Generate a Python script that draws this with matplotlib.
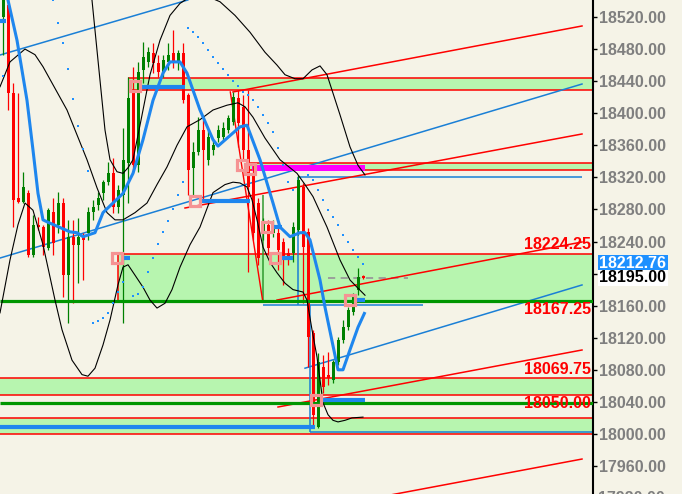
import matplotlib
matplotlib.use("Agg")
import matplotlib.pyplot as plt
import matplotlib.transforms as mtransforms
from matplotlib.patches import Rectangle
import numpy as np

plt.rcParams["font.family"] = ["Liberation Sans", "DejaVu Sans"]
plt.rcParams["font.weight"] = "bold"

# ---- candles (bar index 0..72) ----
opens = [18520, 18535, 18425, 18294, 18289, 18300, 18223, 18261, 18258, 18232,
         18277, 18261, 18288, 18198, 18246, 18236, 18246, 18251, 18277, 18286,
         18300, 18314, 18325, 18283, 18298, 18338, 18429, 18335, 18454, 18464,
         18475, 18463, 18450, 18464, 18475, 18464, 18475, 18423, 18332, 18352,
         18379, 18342, 18354, 18369, 18370, 18379, 18389, 18419, 18408, 18354,
         18323, 18288, 18251, 18261, 18251, 18251, 18239, 18226, 18226, 18254,
         18308, 18252, 18126, 18009, 18084, 18074, 18067, 18090, 18117, 18133,
         18152, 18180, 18197]
highs = [18554, 18547, 18438, 18425, 18327, 18304, 18273, 18271, 18261, 18282,
         18294, 18302, 18294, 18267, 18267, 18269, 18251, 18283, 18292, 18302,
         18317, 18339, 18344, 18310, 18382, 18445, 18458, 18464, 18489, 18483,
         18488, 18473, 18473, 18488, 18504, 18479, 18488, 18425, 18364, 18395,
         18392, 18379, 18367, 18385, 18389, 18398, 18426, 18429, 18423, 18429,
         18335, 18294, 18269, 18267, 18267, 18257, 18244, 18232, 18264, 18323,
         18313, 18257, 18130, 18101, 18098, 18102, 18092, 18121, 18142, 18158,
         18176, 18207, 18198]
lows = [18473, 18404, 18258, 18288, 18288, 18221, 18221, 18254, 18223, 18229,
        18223, 18251, 18171, 18138, 18163, 18188, 18192, 18242, 18267, 18279,
        18292, 18310, 18276, 18276, 18138, 18288, 18327, 18327, 18438, 18458,
        18450, 18445, 18445, 18454, 18456, 18454, 18413, 18298, 18296, 18348,
        18292, 18335, 18348, 18364, 18367, 18375, 18385, 18358, 18342, 18202,
        18242, 18211, 18242, 18223, 18246, 18204, 18186, 18211, 18214, 18248,
        18163, 18084, 18009, 18007, 18051, 18061, 18064, 18086, 18113, 18130,
        18148, 18173, 18193]
closes = [18547, 18425, 18292, 18289, 18308, 18223, 18261, 18258, 18233, 18279,
          18238, 18288, 18198, 18246, 18236, 18246, 18242, 18277, 18283, 18294,
          18314, 18325, 18283, 18304, 18342, 18419, 18335, 18451, 18470, 18476,
          18463, 18451, 18466, 18473, 18463, 18475, 18416, 18329, 18352, 18379,
          18354, 18370, 18360, 18379, 18382, 18394, 18420, 18388, 18354, 18308,
          18251, 18219, 18263, 18232, 18261, 18229, 18221, 18217, 18258, 18317,
          18233, 18121, 18024, 18090, 18059, 18070, 18090, 18117, 18133, 18155,
          18171, 18196, 18194]

# ---- moving average (thick blue) ----
ma_x = [0.5, 0.94, 2.74, 4.74, 5.94, 6.94, 7.94, 8.94, 13.34, 14.74, 15.94, 18.34,
        19.94, 21.94, 23.94, 25.94, 27.94, 29.94, 31.94, 33.34, 35.34, 36.74,
        39.34, 41.94, 42.94, 47.34, 48.74, 51.34, 53.94, 55.34, 57.34, 59.34,
        60.34, 61.34, 63.34, 64.34, 66.94, 67.94, 69.34, 70.94, 72.34]
ma_y = [18560, 18541, 18491, 18416, 18354, 18300, 18267, 18264, 18252, 18251,
        18246, 18251, 18276, 18288, 18300, 18325, 18367, 18416, 18450, 18464,
        18464, 18450, 18404, 18367, 18359, 18383, 18385, 18342, 18288, 18258,
        18246, 18251, 18251, 18242, 18192, 18158, 18080, 18080, 18105, 18133,
        18152]

# ---- bollinger bands (black) ----
up_x = [16.54, 17.74, 19.34, 20.34, 21.34, 22.74, 23.94, 24.94, 25.94, 27.34,
        29.34, 31.34, 33.34, 35.34, 37.34, 40.34, 43.34, 46.34, 49.34, 52.34,
        54.74, 56.34, 58.34, 59.94, 61.74, 63.34, 64.74, 65.94, 67.34, 69.34,
        70.94, 72.34]
up_y = [18591, 18541, 18441, 18379, 18342, 18327, 18325, 18332, 18342, 18385,
        18448, 18491, 18522, 18537, 18545, 18547, 18539, 18522, 18501, 18476,
        18460, 18448, 18443, 18443, 18454, 18459, 18448, 18425, 18398, 18358,
        18335, 18323]
mid_x = [-0.66, 1.34, 4.34, 6.34, 7.94, 10.34, 12.74, 14.74, 16.74, 18.74,
         20.74, 22.34, 23.94, 26.34, 28.74, 30.74, 32.74, 34.74, 36.74, 39.34,
         41.94, 44.74, 46.94, 48.34, 49.94, 52.34, 55.34, 58.74, 60.34, 61.94,
         63.34, 64.74, 67.34, 69.34, 70.74, 72.34]
mid_y = [18433, 18464, 18480, 18473, 18458, 18431, 18404, 18373, 18342, 18307,
         18276, 18267, 18267, 18276, 18288, 18311, 18333, 18360, 18383, 18392,
         18404, 18410, 18413, 18408, 18395, 18369, 18342, 18325, 18311, 18296,
         18277, 18258, 18217, 18192, 18183, 18173]
low_x = [-0.66, 1.34, 2.94, 4.34, 5.94, 7.94, 10.34, 11.74, 13.74, 15.74,
         16.94, 18.34, 19.94, 21.34, 22.94, 23.94, 24.94, 26.34, 27.94, 29.34,
         30.74, 32.34, 33.74, 35.34, 37.34, 39.34, 41.94, 44.34, 45.94, 47.34,
         48.74, 49.74, 50.74, 51.94, 53.34, 54.74, 56.34, 57.94, 59.94, 60.74,
         61.74, 62.74, 63.94, 64.94, 65.94, 66.94, 68.34, 69.74, 71.94]
low_y = [18151, 18217, 18261, 18288, 18279, 18236, 18167, 18130, 18092, 18074,
         18072, 18082, 18111, 18142, 18186, 18208, 18211, 18198, 18183, 18167,
         18157, 18163, 18180, 18208, 18236, 18258, 18301, 18311, 18314, 18313,
         18308, 18292, 18267, 18233, 18214, 18201, 18188, 18180, 18177, 18167,
         18130, 18096, 18039, 18024, 18017, 18015, 18017, 18020, 18021]

# ---- parabolic SAR dots ----
sar_x = [-0.06, 9.94, 10.94, 11.94, 12.94, 13.94, 14.94, 15.94, 16.94,
         17.94, 18.94, 19.94, 20.94, 21.94, 22.94, 23.94, 25.94, 26.94, 27.94,
         28.94, 29.94, 30.94, 31.94, 32.94, 33.94, 34.94, 35.94,
         36.94, 37.94, 38.94, 39.94, 40.94, 41.94, 42.94, 43.94, 44.94, 45.94,
         46.94, 47.94, 48.94, 49.94, 50.94, 51.94, 52.94, 53.94, 54.94, 55.94,
         56.94, 57.94,
         60.94, 61.94, 62.94, 63.94, 64.94, 65.94, 66.94, 67.94, 68.94, 69.94,
         70.94, 71.94]
sar_y = [18446, 18541, 18513, 18488, 18455, 18418, 18384, 18355, 18328,
         18138, 18141, 18145, 18151, 18163, 18177, 18190, 18172, 18175, 18183,
         18202, 18219, 18237, 18252, 18266, 18280, 18298, 18314,
         18506, 18501, 18495, 18488, 18479, 18470, 18463, 18455, 18448, 18440,
         18434, 18427, 18423, 18417, 18408, 18398, 18388, 18377, 18357, 18335,
         18314, 18304,
         18323, 18317, 18304, 18292, 18279, 18271, 18261, 18248, 18239, 18229,
         18221, 18212]

# ---- swing markers (pink squares) ----
pivot_x = [26.34, 22.74, 38.34, 47.7, 49.3, 52.74, 54.34, 69.34, 62.54]
pivot_y = [18434, 18219, 18290, 18336, 18331, 18258, 18219, 18167, 18042]

# ---- thick blue pivot segments: (x0, x1, price) ----
pivot_lines = [(27.7, 36.3, 18433), (39.7, 49.3, 18290), (53.7, 55.7, 18258),
               (55.7, 57.9, 18219), (23.7, 25.3, 18219), (70.7, 72.3, 18167),
               (63.7, 72.3, 18042), (-0.66, 62.3, 18009), (-0.66, 0.54, 18515)]

# ---- zones: (x0, low, high) ----
zones = [(24.9, 18429.0, 18443.9), (49.3, 18329.2, 18338.0),
         (22.9, 18166.0, 18224.25), (-0.66, 18049.0, 18069.75),
         (-0.66, 17999.9, 18019.9)]
red_levels = [(24.9, 18443.9), (24.9, 18429.0), (49.3, 18338.0), (49.3, 18329.2),
              (22.9, 18224.25), (-0.66, 18069.75), (-0.66, 18049.0),
              (-0.66, 18019.9), (-0.66, 17999.9)]
green_levels = [18166.0, 18038.6]
level_labels = [(18236, "18224.25"), (18155, "18167.25"),
                (18080, "18069.75"), (18038, "18050.00")]

# ---- trend channels: ((x0, p0), (x1, p1)) ----
red_diag = [((45.94, 18426.5), (115.74, 18508.8)),
            ((36.34, 18281.8), (115.74, 18374.1)),
            ((54.74, 18167.0), (115.74, 18239.4)),
            ((54.94, 18033.6), (115.74, 18104.7)),
            ((54.94, 17897.6), (115.74, 17968.7))]
blue_diag = [((-0.66, 18472.6), (36.9, 18541.2)),
             ((-0.66, 18219.4), (115.74, 18436.4)),
             ((60.34, 18082.0), (115.74, 18185.8))]

last_price = 18212.76
cur_price = 18195.00
y_ticks = np.arange(17960, 18521, 40)

bg = "#F5F3E7"
zone_green = "#B7F5AF"
line_green = "#009600"
blue = "#1E86EE"
thin_blue = "#1A7FD6"

fig = plt.figure(figsize=(6.82, 4.94), dpi=100, facecolor=bg)
ax = fig.add_axes([0, 0, 593 / 682, 1], facecolor=bg)
x_end = 117.94
ax.set_xlim(-0.66, x_end)
ax.set_ylim(17925.1, 18541.2)

# zones and levels
for x0, lo, hi in zones:
    ax.fill_between([x0, x_end], lo, hi, color=zone_green, lw=0, zorder=1)
ax.fill_between([49.7, 72.3], 18327.9, 18335.4, color="#FF00FF", lw=0, zorder=2.5)
for x0, p in red_levels:
    ax.hlines(p, x0, x_end, colors="red", lw=1.1, zorder=2)
ax.vlines(22.9, 18166, 18224.25, colors="red", lw=1.1, zorder=2)
for p in green_levels:
    ax.hlines(p, -0.66, x_end, colors=line_green, lw=2.3, zorder=3.5)

# box outlines
ax.hlines(18320, 58.9, 115.7, colors=thin_blue, lw=1.1, zorder=2)
ax.vlines(58.9, 18161, 18320, colors=thin_blue, lw=1.1, zorder=2)
ax.hlines(18161, 51.9, 83.9, colors=thin_blue, lw=1.1, zorder=2)
ax.vlines(61.3, 18002, 18161, colors=thin_blue, lw=1.1, zorder=2)
ax.hlines(18002.4, 61.3, x_end, colors=thin_blue, lw=1.1, zorder=2)
ax.vlines(51.9, 18163, 18298, colors="#2E9A2E", lw=1.1, zorder=2)
ax.plot([45.4, 51.9], [18426.5, 18165], color="red", lw=1.0, zorder=2)
ax.hlines(18194.5, 64.9, 80.9, colors="#999999", lw=1.3,
          linestyles=(0, (4, 3)), zorder=2)

for (x0, p0), (x1, p1) in red_diag:
    ax.plot([x0, x1], [p0, p1], color="red", lw=1.1, zorder=2)
for (x0, p0), (x1, p1) in blue_diag:
    ax.plot([x0, x1], [p0, p1], color=thin_blue, lw=1.1, zorder=2)

# candles
xs = np.arange(len(opens))
o = np.array(opens); h = np.array(highs); l = np.array(lows); c = np.array(closes)
cols = np.where(c >= o, "#008000", "#FF0000")
ax.vlines(xs, l, h, colors=cols, lw=0.9, zorder=3)
body_lo = np.minimum(o, c)
body_h = np.maximum(np.abs(c - o), 2.5)
ax.bar(xs, body_h, bottom=body_lo, width=0.62, color=cols, lw=0, zorder=3)

# bands, SAR, MA
for bx, by in [(up_x, up_y), (mid_x, mid_y), (low_x, low_y)]:
    ax.plot(bx, by, color="black", lw=0.8, zorder=4)
ax.plot(sar_x, sar_y, "s", ms=1.7, mew=0, color="#1E90FF", zorder=4)
ax.plot(ma_x, ma_y, color=blue, lw=2.2, zorder=5, solid_capstyle="butt")

for x0, x1, p in pivot_lines:
    ax.hlines(p, x0, x1, colors=blue, lw=3.0, zorder=5)
ax.plot(pivot_x, pivot_y, "s", ms=7.2, mfc="none", mec="#F59393", mew=2.3, zorder=6)

trans = mtransforms.blended_transform_factory(ax.transAxes, ax.transData)

# level labels
for p, s in level_labels:
    ax.text(591 / 593, p, s, transform=trans, ha="right", va="center",
            color="red", fontsize=11.5, fontweight="bold", zorder=7)

# right axis
ax.yaxis.tick_right()
ax.set_yticks(y_ticks)
ax.set_yticklabels([f"{v:.2f}" for v in y_ticks])
ax.tick_params(axis="y", direction="out", length=3, width=1, color="black",
               labelcolor="#7F7F7F", labelsize=11.5, pad=1)
ax.set_xticks([])
for s in ["top", "left", "bottom"]:
    ax.spines[s].set_visible(False)
ax.spines["right"].set_linewidth(1.5)

ax.text(1 + 5 / 593, 17920, "17920.00", transform=trans, ha="left", va="center",
        color="#7F7F7F", fontsize=11.5, fontweight="bold", clip_on=False)

# price boxes on the axis: 16 px tall each
box_h = 16 * 1.2472
for p, fc, tc in [(last_price, "#1E90FF", "white"), (cur_price, "white", "black")]:
    ax.add_patch(Rectangle((1 + 5 / 593, p - box_h / 2), 70 / 593, box_h,
                           transform=trans, fc=fc, ec="none", clip_on=False,
                           zorder=8))
    ax.text(1 + 6 / 593, p, f"{p:.2f}", transform=trans, ha="left",
            va="center", color=tc, fontsize=11.5, fontweight="bold", zorder=9)

fig.savefig("out.png", dpi=100, facecolor=bg)
